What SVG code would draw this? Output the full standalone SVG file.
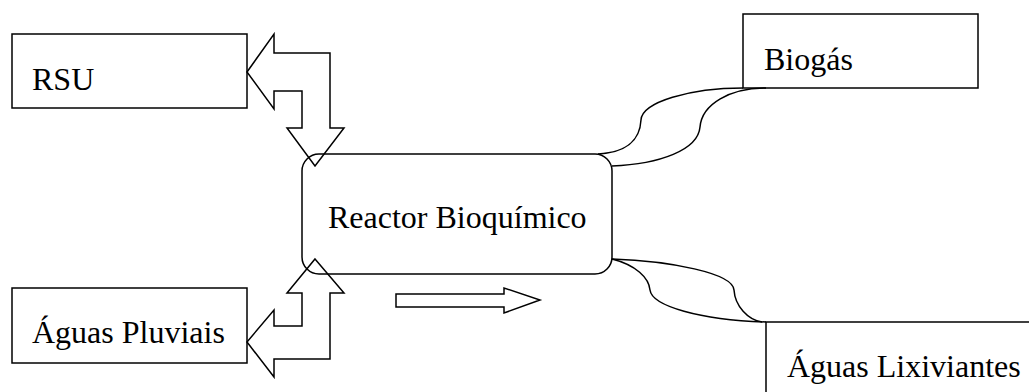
<svg xmlns="http://www.w3.org/2000/svg" width="1029" height="392" viewBox="0 0 1029 392">
<style>
.box{fill:#fff;stroke:#000;stroke-width:1.5}
.arr{fill:none;stroke:#000;stroke-width:1.5;stroke-linejoin:miter}
.con{fill:none;stroke:#000;stroke-width:1.5}
text{font-family:"Liberation Serif","Times New Roman",serif;font-size:32px;fill:#000}
</style>
<rect width="1029" height="392" fill="#fff"/>
<g id="rsu"><rect class="box" x="12" y="34" width="235" height="74"/><text x="32" y="90">RSU</text></g>
<g id="pluviais"><rect class="box" x="12" y="288" width="235" height="75"/><text x="32" y="343">Águas Pluviais</text></g>
<g id="biogas"><rect class="box" x="743" y="14" width="235" height="74"/><text x="764" y="70">Biogás</text></g>
<g id="lixiviantes"><rect class="box" x="766" y="322" width="300" height="100"/><text x="787" y="377">Águas Lixiviantes</text></g>
<g id="reactor"><rect class="box" x="302" y="154" width="310" height="120" rx="17" ry="17"/><text x="328" y="228">Reactor Bioquímico</text></g>
<g id="connectors">
<polygon class="arr" points="247,72 274,34 274,53 330,53 330,128 344,128 315,166 287,128 302,128 302,91 274,91 274,109"/>
<polygon class="arr" points="315,259 344,293 330,293 330,359 274,359 274,377 247,342 274,310 274,326 302,326 302,293 287,293"/>
<polygon class="arr" points="396,294 504,294 504,288 540,300 504,313 504,307 396,307"/>
<path class="con" d="M598,154 C630,152 640,138 641,120 C642,102 690,88 743,88"/>
<path class="con" d="M612,166 C660,164 698,150 700,127 C702,104 730,88 766,88"/>
<path class="con" d="M612,259 C670,261 733,273 734,290 C735,306 748,320 762,322"/>
<path class="con" d="M612,259 C636,265 649,278 650,290 C652,306 700,320 766,322"/>
</g>
</svg>
